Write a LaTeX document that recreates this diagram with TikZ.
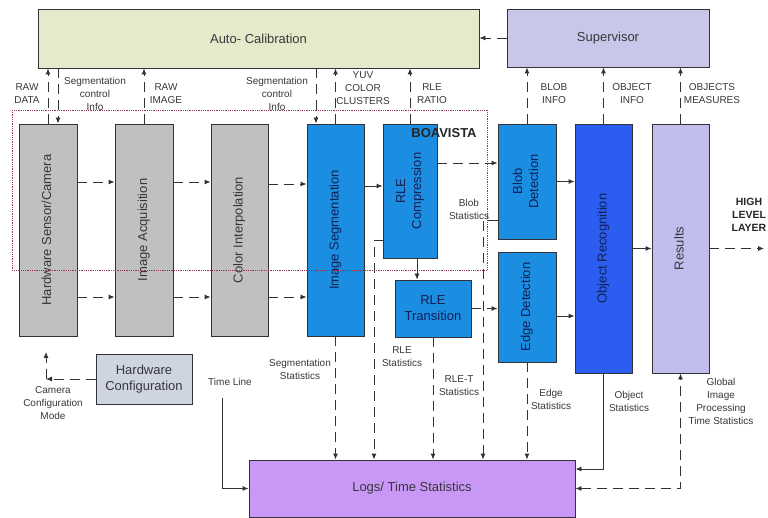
\documentclass[tikz,border=0pt]{standalone}
\usepackage{fontspec}
\setmainfont{Liberation Sans}
\usetikzlibrary{arrows.meta, positioning}
\usepackage{graphicx}

\definecolor{calibfill}{RGB}{231,233,203}
\definecolor{superfill}{RGB}{200,199,233}
\definecolor{grayfill}{RGB}{192,192,192}
\definecolor{bluefill}{RGB}{28,142,226}
\definecolor{objfill}{RGB}{43,94,240}
\definecolor{resfill}{RGB}{193,189,236}
\definecolor{hwfill}{RGB}{206,213,225}
\definecolor{logfill}{RGB}{201,151,246}
\definecolor{edgeline}{RGB}{50,50,55}
\definecolor{lbltext}{RGB}{55,55,60}
\definecolor{navytext}{RGB}{18,32,85}
\definecolor{frame}{RGB}{150,55,70}

\newcommand{\vlabel}[1]{\rotatebox{90}{\begin{tabular}{@{}c@{}}#1\end{tabular}}}

\begin{document}
\begin{tikzpicture}[x=1pt, y=-1pt, >={Latex[length=6pt, width=5pt]}, semithick,
  box/.style={draw=edgeline, line width=0.9pt, inner sep=0pt, align=center,
    text=lbltext, font=\fontsize{13}{16}\selectfont},
  gbox/.style={box, fill=grayfill},
  bbox/.style={box, fill=bluefill, text=navytext},
  lbl/.style={align=center, text=lbltext, inner sep=0pt, font=\fontsize{10}{13}\selectfont},
  hdr/.style={align=center, text=black!85, inner sep=0pt, font=\bfseries\fontsize{10.5}{13}\selectfont},
  flow/.style={->, line width=0.9pt, dash pattern=on 10pt off 6pt, draw=edgeline},
  link/.style={->, line width=0.9pt, draw=edgeline}]

  \useasboundingbox (0,0) rectangle (768,518);

  % Top blocks
  \node[box, fill=calibfill, minimum width=441, minimum height=59] (calib) at (258.5,38.5) {Auto- Calibration};
  \node[box, fill=superfill, minimum width=202, minimum height=58] (super) at (608,38) {Supervisor};

  % Pipeline
  \node[gbox, minimum width=58, minimum height=212] (cam) at (48,230) {\vlabel{Hardware Sensor/Camera}};
  \node[gbox, minimum width=58, minimum height=212] (acq) at (144,230) {\vlabel{Image Acquisition}};
  \node[gbox, minimum width=57, minimum height=212] (interp) at (239.5,230) {\vlabel{Color Interpolation}};
  \node[bbox, minimum width=57, minimum height=212] (seg) at (335.5,230) {\vlabel{Image Segmentation}};
  \node[bbox, minimum width=54, minimum height=134] (rlec) at (410,191) {\vlabel{RLE\\Compression}};
  \node[bbox, minimum width=76, minimum height=57] (rlet) at (433,308.5) {RLE\\Transition};
  \node[bbox, minimum width=58, minimum height=115] (blob) at (527,181.5) {\vlabel{Blob\\Detection}};
  \node[bbox, minimum width=58, minimum height=110] (edge) at (527,307) {\vlabel{Edge Detection}};
  \node[bbox, fill=objfill, minimum width=57, minimum height=249] (objrec) at (603.5,248.5) {\vlabel{Object Recognition}};
  \node[box, fill=resfill, minimum width=57, minimum height=249] (results) at (680.5,248.5) {\vlabel{Results}};

  % Bottom blocks
  \node[box, fill=hwfill, minimum width=96, minimum height=50] (hwconf) at (144,379) {Hardware\\Configuration};
  \node[box, fill=logfill, minimum width=326, minimum height=57] (logs) at (412,488.5) {Logs/ Time Statistics};

  % BOAVISTA frame
  \draw[frame, densely dotted, line width=0.8pt] (12,110) rectangle (487,270);
  \node[hdr, font=\bfseries\fontsize{13}{15}\selectfont] (boa) at (444,133) {BOAVISTA};

  % Labels
  \node[lbl] (rawdata) at (27,94) {RAW\\DATA};
  \node[lbl] (segctla) at (95,94) {Segmentation\\control\\Info};
  \node[lbl] (rawimg) at (166,94) {RAW\\IMAGE};
  \node[lbl] (segctlb) at (277,94) {Segmentation\\control\\Info};
  \node[lbl] (yuv) at (363,88) {YUV\\COLOR\\CLUSTERS};
  \node[lbl] (ratio) at (432,94) {RLE\\RATIO};
  \node[lbl] (blobinfo) at (554,94) {BLOB\\INFO};
  \node[lbl] (objinfo) at (632,94) {OBJECT\\INFO};
  \node[lbl] (objmeas) at (712,94) {OBJECTS\\MEASURES};
  \node[lbl] (blobstat) at (469,209) {Blob\\Statistics};
  \node[hdr] (hll) at (749,215) {HIGH\\LEVEL\\LAYER};
  \node[lbl] (segstat) at (300,369) {Segmentation\\Statistics};
  \node[lbl] (rlestat) at (402,357) {RLE\\Statistics};
  \node[lbl] (rletstat) at (459,386) {RLE-T\\Statistics};
  \node[lbl] (edgestat) at (551,399) {Edge\\Statistics};
  \node[lbl] (objstat) at (629,401) {Object\\Statistics};
  \node[lbl] (globstat) at (721,401) {Global\\Image\\Processing\\Time Statistics};
  \node[lbl] (timeline) at (230,382) {Time Line};
  \node[lbl] (camcfg) at (53,403) {Camera\\Configuration\\Mode};

  % Free ends
  \coordinate (camin) at ([xshift=10pt]cam.north);
  \coordinate (segin) at ([xshift=-19.5pt]seg.north);
  \coordinate (rlesx) at (374,0);
  \coordinate (blobsx) at (483,0);
  \coordinate (hlend) at (764,248.5);
  \coordinate (tl) at (222,398);
  \coordinate (cfg) at (46,379);
  \coordinate (cfgup) at (46,352);

  % Supervisor / calibration
  \draw[flow] (super.west) -- (super.west -| calib.east);
  \draw[flow] (cam.north) -- (cam.north |- calib.south);
  \draw[flow] (camin |- calib.south) -- (camin);
  \draw[flow] (acq.north) -- (acq.north |- calib.south);
  \draw[flow] (segin |- calib.south) -- (segin);
  \draw[flow] (seg.north) -- (seg.north |- calib.south);
  \draw[flow] (rlec.north) -- (rlec.north |- calib.south);
  \draw[flow] (blob.north) -- (blob.north |- super.south);
  \draw[flow] (objrec.north) -- (objrec.north |- super.south);
  \draw[flow] (results.north) -- (results.north |- super.south);

  % Image flow
  \draw[flow] ([yshift=48pt]cam.east) -- ([yshift=48pt]acq.west);
  \draw[flow] ([yshift=-67pt]cam.east) -- ([yshift=-67pt]acq.west);
  \draw[flow] ([yshift=48pt]acq.east) -- ([yshift=48pt]interp.west);
  \draw[flow] ([yshift=-67pt]acq.east) -- ([yshift=-67pt]interp.west);
  \draw[flow] ([yshift=46pt]interp.east) -- ([yshift=46pt]seg.west);
  \draw[flow] ([yshift=-67pt]interp.east) -- ([yshift=-67pt]seg.west);
  \draw[link] ([yshift=44pt]seg.east) -- ([yshift=44pt]seg.east -| rlec.west);
  \draw[flow] ([yshift=28pt]rlec.east) -- ([yshift=28pt]rlec.east -| blob.west);
  \draw[link] ([xshift=7pt]rlec.south) -- ([xshift=7pt]rlec.south |- rlet.north);
  \draw[flow] (rlet.east) -- (rlet.east -| edge.west);
  \draw[link] (blob.east) -- (blob.east -| objrec.west);
  \draw[link] ([yshift=-9pt]edge.east) -- ([yshift=-9pt]edge.east -| objrec.west);
  \draw[link] (objrec.east) -- (objrec.east -| results.west);
  \draw[flow] (results.east) -- (hlend);

  % Statistics
  \draw[flow] (seg.south) -- (seg.south |- logs.north);
  \draw[flow] ([yshift=-49pt]rlec.west) -| (rlesx |- logs.north);
  \draw[flow] ([yshift=-38.5pt]blob.west) -| (blobsx |- logs.north);
  \draw[flow] (rlet.south) -- (rlet.south |- logs.north);
  \draw[flow] (edge.south) -- (edge.south |- logs.north);
  \draw[link] (objrec.south) |- ([yshift=19.5pt]logs.east);
  \draw[flow, <->] (logs.east) -| (results.south);
  \draw[link] (tl) |- (logs.west);

  % Camera configuration
  \draw[flow] (hwconf.west) -- (cfg);
  \draw[flow] (cfg) -- (cfgup);

\end{tikzpicture}
\end{document}
